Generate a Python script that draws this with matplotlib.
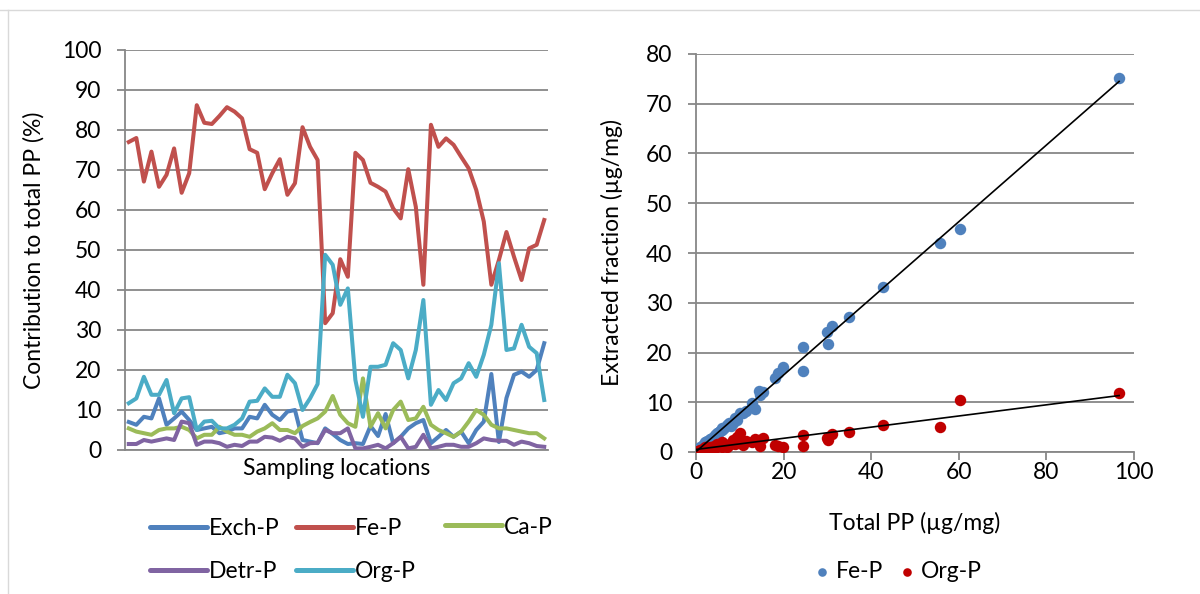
import matplotlib
matplotlib.use("Agg")
import matplotlib.pyplot as plt
from matplotlib.lines import Line2D
import numpy as np

plt.rcParams['font.family'] = ['Lato', 'DejaVu Sans']

# ---------------- data: left panel (% contribution per sampling location) ----------------
exch_p = [7, 6.3, 8.3, 7.9, 12.9, 6.3, 7.9, 9.6, 7.5, 5, 5.4, 5.8, 4.2, 4.6, 5.4, 5.4,
          8.3, 7.9, 11.3, 8.8, 7.5, 9.6, 10, 2.5, 2.1, 1.7, 5.4, 4, 2.5, 1.5, 1.7, 1.5,
          6, 3.5, 9, 1.7, 3.3, 5.4, 6.7, 7.5, 1.7, 3.3, 5, 3.3, 4.6, 1.7, 5, 7.1,
          19, 2, 13, 18.8, 19.6, 18.3, 20, 26.7]
fe_p = [77, 78, 67.1, 74.6, 65.8, 68.8, 75.4, 64.3, 69.2, 86.2, 81.8, 81.5, 83.5, 85.7,
        84.6, 82.9, 75.2, 74.3, 65.2, 69.2, 72.7, 63.8, 66.7, 80.7, 75.8, 72.5, 31.7,
        34.2, 47.7, 43.3, 74.3, 72.5, 66.8, 65.8, 64.6, 60.4, 57.9, 70.2, 60.8, 41.3,
        81.3, 75.8, 77.9, 76.3, 73.3, 70.4, 65, 57.1, 41.3, 47.5, 54.5, 48.3, 42.5,
        50.4, 51.3, 57.5]
ca_p = [5.4, 4.6, 4.2, 3.8, 5, 5.4, 5.4, 5.8, 5, 2.9, 3.8, 3.8, 5.8, 4.6, 3.8, 3.8,
        3.3, 4.6, 5.4, 6.7, 5, 5, 4.2, 6, 7, 7.9, 9.6, 13.5, 8.8, 6.7, 5.8, 17.9,
        5.8, 9.2, 5.4, 10, 12.1, 7.5, 7.9, 10.8, 6.3, 5, 4.2, 3.3, 4.6, 7.1, 10,
        8.8, 6.3, 5.4, 5.4, 5, 4.6, 4.2, 4.2, 2.9]
detr_p = [1.5, 1.5, 2.5, 2.1, 2.5, 2.9, 2.5, 7.1, 6.7, 1.3, 2.1, 2.1, 1.7, 0.8, 1.3, 1,
          2.1, 2.1, 3.3, 3.1, 2.3, 3.3, 2.9, 0.8, 1.7, 1.8, 5, 4.2, 4.2, 5.4, 0.4, 0.4,
          0.8, 1.3, 0.4, 1.7, 3.3, 0.4, 0.8, 3.8, 0.4, 0.8, 1.3, 1.3, 0.8, 0.8, 1.7,
          2.9, 2.5, 2.3, 2.3, 1.3, 2.1, 1.7, 1, 0.8]
org_p = [11.7, 12.9, 18.3, 13.8, 13.8, 17.5, 9.2, 12.9, 13.2, 5, 7.1, 7.3, 5.4, 5.4,
         6.3, 7.9, 12.1, 12.3, 15.4, 13.3, 13.3, 18.8, 16.7, 10, 12.9, 16.5, 48.8,
         46.3, 36.3, 40.4, 17.5, 8.3, 20.8, 20.8, 21.3, 26.7, 25, 17.9, 25, 37.5,
         11.3, 15, 12.5, 16.7, 17.9, 21.7, 18.3, 23.8, 31.3, 46.7, 25, 25.4, 31.3,
         25.8, 24.2, 12.5]
series_names = ['Exch-P', 'Fe-P', 'Ca-P', 'Detr-P', 'Org-P']
left_yticks = list(range(0, 101, 10))

# ---------------- data: right panel (µg/mg) ----------------
total_pp = [96.6, 60.2, 55.7, 42.6, 35.0, 31.0, 29.8, 30.1, 24.5, 24.5, 19.9, 18.8,
            18.0, 15.4, 14.6, 14.3, 13.5, 12.7, 10.8, 10.0, 9.4, 8.5, 8.0, 7.0, 6.5,
            5.9, 5.2, 4.7, 4.0, 3.2, 2.6, 2.0, 1.5, 0.9, 0.5, 0.2,
            11.5, 9.0, 7.5, 6.0, 5.5, 4.4, 3.6, 2.3, 1.2, 0.7]
fe_abs = [75.2, 44.8, 42.1, 33.2, 27.2, 25.4, 24.2, 21.8, 21.2, 16.3, 17.1, 15.8,
          14.9, 12.1, 11.5, 12.2, 8.6, 9.8, 7.8, 7.8, 6.5, 5.8, 5.3, 5.4, 4.9, 4.8,
          4.0, 3.75, 3.0, 2.7, 2.2, 2.1, 1.5, 1.1, 0.6, 0.3,
          8.2, 6.8, 5.9, 4.5, 4.3, 3.4, 2.9, 1.8, 0.9, 0.5]
org_abs = [11.8, 10.4, 5.1, 5.4, 4.1, 3.6, 2.9, 2.5, 3.5, 1.2, 1.1, 1.2, 1.4, 2.9,
           1.2, 2.5, 2.7, 2.1, 1.4, 3.75, 3.0, 2.4, 1.8, 1.1, 1.5, 2.1, 1.2, 1.7,
           1.3, 1.1, 0.8, 1.1, 0.6, 0.4, 0.3, 0.1,
           2.2, 1.6, 1.4, 1.0, 1.6, 0.9, 0.8, 0.7, 0.3, 0.2]
right_xticks = list(range(0, 101, 20))
right_yticks = list(range(0, 81, 10))

# ---------------- styles ----------------
line_colors = ['#4F81BD', '#C0504D', '#9BBB59', '#8064A2', '#4BACC6']
grid_c = '#878787'
FS = 16.5

fig = plt.figure(figsize=(12, 5.94), dpi=100)

# ---------- left axes ----------
ax1 = fig.add_axes([125/1200, 1 - 450/594, 423/1200, 400/594])
x = np.arange(len(fe_p))
for vals, name, c, z in zip([exch_p, fe_p, ca_p, detr_p, org_p], series_names,
                            line_colors, range(3, 8)):
    ax1.plot(x, vals, color=c, lw=2.9, label=name, zorder=z, solid_joinstyle='round')
ax1.set_xlim(-0.5, len(fe_p) - 0.5)
ax1.set_ylim(0, 100)
ax1.set_yticks(left_yticks)
ax1.set_xticks([])
ax1.yaxis.grid(True, color=grid_c, lw=1.3)
ax1.set_axisbelow(True)
for s in ['top', 'right']:
    ax1.spines[s].set_visible(False)
for s in ['left', 'bottom']:
    ax1.spines[s].set_color(grid_c)
    ax1.spines[s].set_linewidth(1.3)
ax1.tick_params(axis='y', length=6, width=1.3, color=grid_c, labelsize=FS, pad=11)
ax1.set_ylabel('Contribution to total PP (%)', fontsize=FS)
ax1.set_xlabel('Sampling locations', fontsize=FS)
ax1.yaxis.set_label_coords((45 - 125) / 423, 0.5)
ax1.xaxis.set_label_coords(0.5, (450 - 458) / 400)

# left legends (three columns as in the reference)
handles = ax1.get_lines()
cols = [([handles[0], handles[3]], 150), ([handles[1], handles[4]], 296), ([handles[2]], 445)]
for hs, xpos in cols:
    yc = 550 if len(hs) == 2 else 527
    leg = fig.legend(hs, [h.get_label() for h in hs], loc='center left',
                     bbox_to_anchor=(xpos/1200, 1 - yc/594), frameon=False, fontsize=FS,
                     handlelength=2.5, handletextpad=0.08, labelspacing=1.0, borderpad=0,
                     borderaxespad=0)
    for ln in leg.get_lines():
        ln.set_linewidth(3.6)
        ln.set_solid_capstyle('round')

# ---------- right axes ----------
ax2 = fig.add_axes([696/1200, 1 - 452/594, 438/1200, 398/594])
tp = np.array(total_pp)
fe = np.array(fe_abs)
og = np.array(org_abs)
ax2.scatter(tp, fe, s=68, color='#4F81BD', zorder=3, label='Fe-P', linewidths=0)
ax2.scatter(tp, og, s=68, color='#C00000', zorder=4, label='Org-P', linewidths=0)
xr = np.array([tp.min(), tp.max()])
for yv in (fe, og):
    k, b = np.polyfit(tp, yv, 1)
    ax2.plot(xr, k * xr + b, color='black', lw=1.2, zorder=5)
ax2.set_xlim(0, 100)
ax2.set_ylim(0, 80)
ax2.set_xticks(right_xticks)
ax2.set_yticks(right_yticks)
ax2.yaxis.grid(True, color=grid_c, lw=1.3)
ax2.set_axisbelow(True)
for s in ['top', 'right']:
    ax2.spines[s].set_visible(False)
for s in ['left', 'bottom']:
    ax2.spines[s].set_color(grid_c)
    ax2.spines[s].set_linewidth(1.3)
ax2.tick_params(axis='both', length=6, width=1.3, color=grid_c, labelsize=FS)
ax2.tick_params(axis='y', pad=11)
ax2.tick_params(axis='x', pad=1)
ax2.set_xlabel('Total PP (µg/mg)', fontsize=FS)
ax2.set_ylabel('Extracted fraction (µg/mg)', fontsize=FS)
ax2.yaxis.set_label_coords((623 - 696) / 438, 0.5)
ax2.xaxis.set_label_coords(0.5, (452 - 512) / 398)
fig.legend(*ax2.get_legend_handles_labels(), loc='center left',
           bbox_to_anchor=(816/1200, 1 - 572/594), ncol=2, frameon=False, fontsize=FS,
           handlelength=0.5, handletextpad=0.35, columnspacing=0.8, borderpad=0,
           borderaxespad=0, markerscale=0.75)

# light frame lines like the reference
fig.add_artist(Line2D([0, 1], [1 - 10/594] * 2, transform=fig.transFigure,
                      color='#d9d9d9', lw=1))
fig.add_artist(Line2D([8/1200] * 2, [0, 1 - 10/594], transform=fig.transFigure,
                      color='#d9d9d9', lw=1))

fig.savefig('out.png', dpi=100)
